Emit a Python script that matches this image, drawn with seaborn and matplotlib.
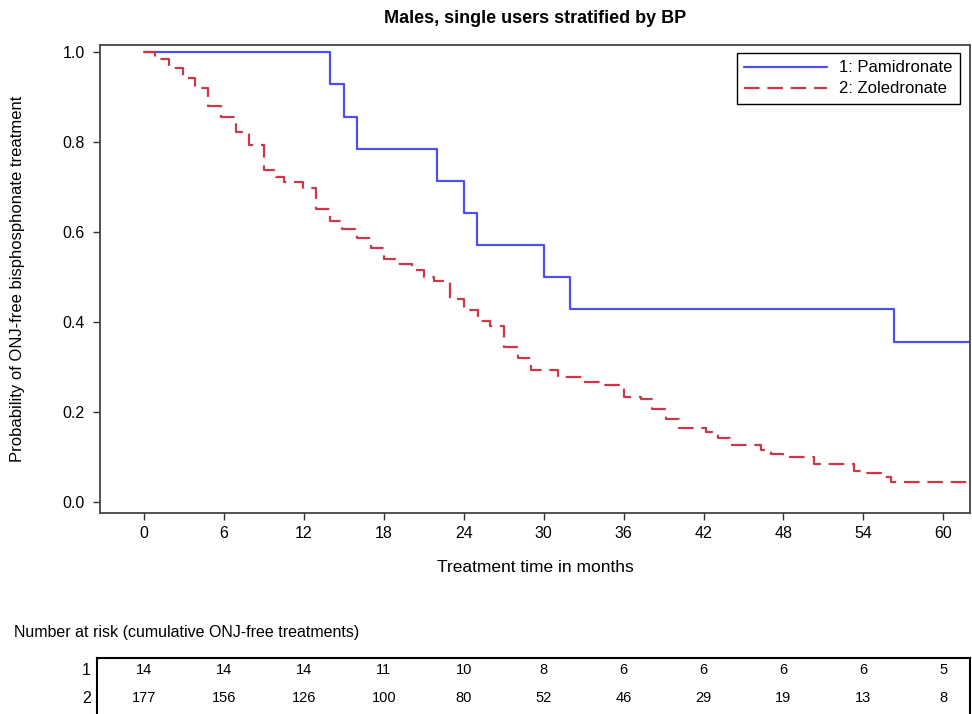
import matplotlib
matplotlib.use("Agg")
import matplotlib.pyplot as plt
import matplotlib.transforms as mtransforms
import seaborn as sns
import pandas as pd

# ---------------- data ----------------
pam_time = [0, 14.0, 15.0, 16.0, 22.0, 24.0, 25.0, 30.0, 32.0, 56.3, 62.0]
pam_surv = [1.0, 0.929, 0.857, 0.786, 0.714, 0.643, 0.571, 0.500, 0.429, 0.357, 0.357]

zol_time = [0, 0.8, 1.9, 2.9, 3.8, 4.8, 5.8, 6.9, 7.9, 9.0, 9.9, 10.5, 11.9, 12.9,
            14.0, 14.9, 16.0, 17.05, 18.05, 19.05, 20.1, 21.0, 21.8, 23.0, 24.0,
            25.05, 26.0, 27.05, 28.05, 29.05, 31.1, 33.0, 34.5, 36.0, 37.3, 38.15,
            39.2, 40.15, 42.2, 43.1, 44.0, 46.3, 47.1, 48.0, 50.3, 53.3, 54.2,
            55.3, 56.1, 62.0]
zol_surv = [1.0, 0.984, 0.964, 0.943, 0.920, 0.880, 0.857, 0.822, 0.793, 0.738,
            0.723, 0.712, 0.699, 0.652, 0.625, 0.608, 0.588, 0.564, 0.541, 0.529,
            0.517, 0.500, 0.491, 0.452, 0.427, 0.403, 0.391, 0.345, 0.321, 0.293,
            0.278, 0.267, 0.260, 0.234, 0.229, 0.207, 0.186, 0.166, 0.156, 0.142,
            0.127, 0.117, 0.107, 0.101, 0.086, 0.070, 0.065, 0.056, 0.045, 0.045]

group_labels = ["1: Pamidronate", "2: Zoledronate"]
risk_times = [0, 6, 12, 18, 24, 30, 36, 42, 48, 54, 60]
risk_pam = [14, 14, 14, 11, 10, 8, 6, 6, 6, 6, 5]
risk_zol = [177, 156, 126, 100, 80, 52, 46, 29, 19, 13, 8]
x_ticks = [0, 6, 12, 18, 24, 30, 36, 42, 48, 54, 60]
y_ticks = [0.0, 0.2, 0.4, 0.6, 0.8, 1.0]

# ---------------- style ----------------
sns.set_theme(style="ticks")
plt.rcParams["font.family"] = ["Liberation Sans", "DejaVu Sans"]
plt.rcParams["text.color"] = "black"
plt.rcParams["axes.labelcolor"] = "black"
plt.rcParams["xtick.color"] = "black"
plt.rcParams["ytick.color"] = "black"

W, H = 972, 714
fig = plt.figure(figsize=(W / 100, H / 100), dpi=100)

ax_l, ax_r, ax_t, ax_b = 100, 970, 45, 513
ax = fig.add_axes([ax_l / W, 1 - ax_b / H, (ax_r - ax_l) / W, (ax_b - ax_t) / H])

blue = "#4F4FF0"
red = "#C8394B"

df_pam = pd.DataFrame({"t": pam_time, "s": pam_surv})
df_zol = pd.DataFrame({"t": zol_time, "s": zol_surv})

sns.lineplot(data=df_pam, x="t", y="s", ax=ax, color=blue, lw=1.6,
             drawstyle="steps-post", label=group_labels[0], estimator=None, sort=False)
sns.lineplot(data=df_zol, x="t", y="s", ax=ax, color=red, lw=1.6,
             drawstyle="steps-post", label=group_labels[1], estimator=None, sort=False,
             dashes=False)
ax.lines[1].set_dashes([7, 3.5])

ax.set_xlim(-3.3, 62.0)
ax.set_ylim(-0.024, 1.016)
ax.set_xticks(x_ticks)
ax.set_xticklabels([str(v) for v in x_ticks])
ax.set_yticks(y_ticks)
ax.set_yticklabels([f"{v:.1f}" for v in y_ticks])
ax.tick_params(axis="both", labelsize=11.5, length=5, width=1, color="#333333",
               labelcolor="black", direction="out")
ax.tick_params(axis="y", pad=6)
ax.tick_params(axis="x", pad=4)

for sp in ax.spines.values():
    sp.set_visible(True)
    sp.set_color("#444444")
    sp.set_linewidth(1.3)

ax.set_xlabel("Treatment time in months", fontsize=12.5)
ax.set_ylabel("Probability of ONJ-free bisphosphonate treatment", fontsize=12)
ax.xaxis.set_label_coords(0.5, -0.100)
ax.yaxis.set_label_coords(-0.086, 0.5)
ax.set_title("Males, single users stratified by BP", fontsize=13,
             fontweight="bold", pad=16)

leg = ax.legend(loc="upper right", bbox_to_anchor=((960 - ax_l) / (ax_r - ax_l),
                                                   (ax_b - 53) / (ax_b - ax_t)),
                borderaxespad=0, fancybox=False, frameon=True, fontsize=12,
                handlelength=5.0, handletextpad=0.7, borderpad=0.45,
                labelspacing=0.35)
leg.get_frame().set_edgecolor("black")
leg.get_frame().set_linewidth(1.0)
leg.get_frame().set_alpha(1)

# ---------------- number at risk table ----------------
fig.text(14 / W, 1 - 632 / H, "Number at risk (cumulative ONJ-free treatments)",
         fontsize=11.5, ha="left", va="center")

tb_top = 658
tax = fig.add_axes([ax_l / W - 3 / W, 0, (ax_r - ax_l + 3) / W, (H - tb_top) / H])
tax.set_xlim(ax.get_xlim()[0] - 3 / 13.35, ax.get_xlim()[1])
tax.set_ylim(0, 1)
tax.set_xticks([])
tax.set_yticks([])
for name, sp in tax.spines.items():
    sp.set_color("black")
    sp.set_linewidth(1.5)
tax.spines["bottom"].set_visible(False)
tax.set_facecolor("white")

row_y = [0.78, 0.28]
for yy, vals in zip(row_y, [risk_pam, risk_zol]):
    for t, v in zip(risk_times, vals):
        tax.text(t, yy, str(v), ha="center", va="center", fontsize=10.5)
trans = mtransforms.blended_transform_factory(tax.transAxes, tax.transAxes)
for yy, lab in zip(row_y, ["1", "2"]):
    tax.text(-0.007, yy, lab, ha="right", va="center", fontsize=11.5, transform=trans)

fig.savefig("out.png", dpi=100)
